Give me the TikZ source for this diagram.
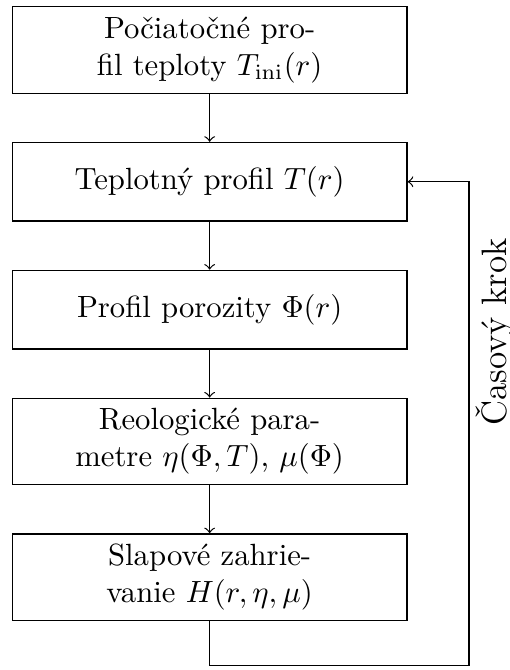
\documentclass[tikz,border=0pt]{standalone}
\usepackage{tikz}
\usetikzlibrary{positioning}

\begin{document}
\begin{tikzpicture}[
    stagebox/.style={draw, rectangle, align=center, minimum width=4.52cm, minimum height=0.9cm},
    flow/.style={->},
    node distance=0.55cm]
    \useasboundingbox (0, 0) rectangle (5.83, -7.67);

    % ── MAIN CHAIN ────────────────────────────────────────────────────
    \node[stagebox, anchor=north] (pociatok) at (2.40, -0.07) {Počiatočné pro-\\fil teploty $T_{\mathrm{ini}}(r)$};
    \node[stagebox, below=of pociatok] (teplota) {Teplotný profil $T(r)$};
    \node[stagebox, below=of teplota] (porozita) {Profil porozity $\Phi(r)$};
    \node[stagebox, below=of porozita] (reologia) {Reologické para-\\metre $\eta(\Phi, T)$, $\mu(\Phi)$};
    \node[stagebox, below=of reologia] (slap) {Slapové zahrie-\\vanie $H(r, \eta, \mu)$};

    \draw[flow] (pociatok) -- (teplota);
    \draw[flow] (teplota) -- (porozita);
    \draw[flow] (porozita) -- (reologia);
    \draw[flow] (reologia) -- (slap);

    % ── TIME STEP LOOP ────────────────────────────────────────────────
    \coordinate (corner) at (5.37, -7.62);
    \coordinate (tail) at (slap.south |- corner);
    \draw[flow] (slap.south) -- (tail) -- (corner) |- (teplota.east);
    \node[rotate=90, font=\fontsize{11.5}{14}\selectfont] (krok) at (5.67, -3.80) {Časový krok};
\end{tikzpicture}
\end{document}
